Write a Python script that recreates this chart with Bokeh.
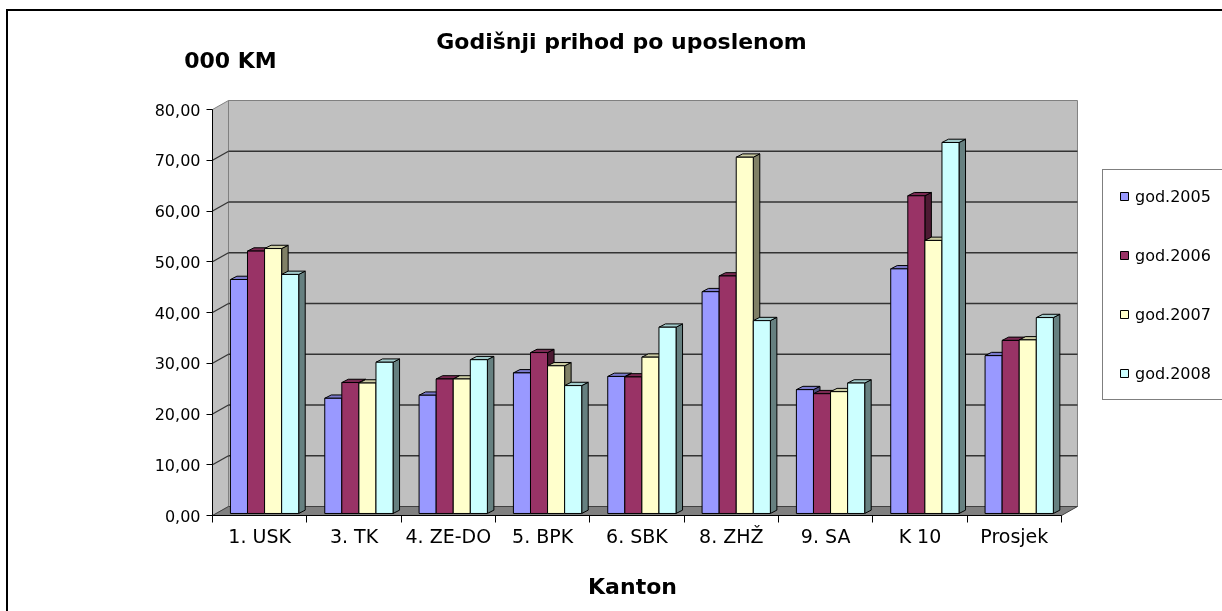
from bokeh.plotting import figure
from bokeh.models import (Range1d, FixedTicker, Legend, LegendItem, Label)
from bokeh.embed import file_html
from bokeh.resources import INLINE

# ---------------- data ----------------
categories = ["1. USK", "3. TK", "4. ZE-DO", "5. BPK", "6. SBK",
              "8. ZHŽ", "9. SA", "K 10", "Prosjek"]
series_names = ["god.2005", "god.2006", "god.2007", "god.2008"]
god_2005 = [46.1, 22.7, 23.3, 27.7, 27.0, 43.7, 24.4, 48.2, 31.1]
god_2006 = [51.7, 25.8, 26.5, 31.7, 26.9, 46.8, 23.6, 62.6, 34.1]
god_2007 = [52.2, 25.7, 26.5, 29.1, 30.8, 70.2, 24.0, 53.8, 34.2]
god_2008 = [47.1, 29.8, 30.3, 25.2, 36.7, 38.0, 25.7, 73.1, 38.6]
y_ticks = [0, 10, 20, 30, 40, 50, 60, 70, 80]
y_tick_labels = ["0,00", "10,00", "20,00", "30,00", "40,00",
                 "50,00", "60,00", "70,00", "80,00"]
title_text = "Godišnji prihod po uposlenom"
unit_text = "000 KM"
x_title = "Kanton"

# ---------------- styling ----------------
FONT = "DejaVu Sans"
front_colors = ["#9999FF", "#993366", "#FFFFCC", "#CCFFFF"]
top_colors = ["#7A7ACC", "#7A2952", "#CCCCA3", "#A3CCCC"]
side_colors = ["#4D4D80", "#4D1A33", "#808066", "#668080"]

PXX = 94.33   # pixels per category
PXY = 5.075   # pixels per value unit
N = len(categories)
YMAX = y_ticks[-1]
DXW = 16 / PXX      # depth of the walls
DYW = 9 / PXY
BAR_W = 0.181
BAR_OFF = 0.19
BASE = 0.4
DXB = 6.5 / PXX     # depth of a bar
DYB = 3.3 / PXY

W, H = 1300, 700
LEFT, BOTTOM = 142, 60
X0 = -62 / PXX
Y_TOP = 504 / PXY

p = figure(width=W, height=H,
           x_range=Range1d(X0, X0 + (W - LEFT) / PXX),
           y_range=Range1d(Y_TOP - (H - BOTTOM) / PXY, Y_TOP),
           output_backend="svg", toolbar_location=None,
           min_border_left=LEFT, min_border_right=0,
           min_border_top=0, min_border_bottom=BOTTOM)
p.styles = {"position": "fixed", "left": "6px", "top": "9px",
            "border-left": "2px solid black", "border-top": "2px solid black"}
p.outline_line_color = None
p.xgrid.visible = False
p.ygrid.visible = False
p.background_fill_color = "white"
p.border_fill_color = "white"

# walls and floor
p.quad(left=DXW, right=N + DXW, bottom=DYW, top=YMAX + DYW,
       fill_color="#C0C0C0", line_color="#808080", line_width=1)
p.patch([0, DXW, DXW, 0], [0, DYW, YMAX + DYW, YMAX],
        fill_color="#C0C0C0", line_color="#808080", line_width=1)
p.patch([0, N, N + DXW, DXW], [0, 0, DYW, DYW],
        fill_color="#808080", line_color="#404040", line_width=1)

grid_vals = y_ticks[1:-1]
p.segment(x0=[DXW] * len(grid_vals), y0=[t + DYW for t in grid_vals],
          x1=[N + DXW] * len(grid_vals), y1=[t + DYW for t in grid_vals],
          line_color="#333333", line_width=1.3)
p.segment(x0=[0] * len(grid_vals), y0=grid_vals,
          x1=[DXW] * len(grid_vals), y1=[t + DYW for t in grid_vals],
          line_color="#333333", line_width=1.3)

# bars
all_series = [god_2005, god_2006, god_2007, god_2008]
legend_items = []
for s, vals in enumerate(all_series):
    x0 = [i + BAR_OFF + s * BAR_W for i in range(N)]
    x1 = [x + BAR_W for x in x0]
    tops = [BASE + v for v in vals]
    side_xs = [[a, a + DXB, a + DXB, a] for a in x1]
    side_ys = [[BASE, BASE + DYB, t + DYB, t] for t in tops]
    top_xs = [[a, a + DXB, b + DXB, b] for a, b in zip(x0, x1)]
    top_ys = [[t, t + DYB, t + DYB, t] for t in tops]
    p.patches(side_xs, side_ys, fill_color=side_colors[s],
              line_color="black", line_width=1)
    p.patches(top_xs, top_ys, fill_color=top_colors[s],
              line_color="black", line_width=1)
    r = p.quad(left=x0, right=x1, bottom=BASE, top=tops,
               fill_color=front_colors[s], line_color="black", line_width=1)
    legend_items.append(LegendItem(label=series_names[s], renderers=[r]))

# front axis lines
p.segment(x0=[0, 0], y0=[0, 0], x1=[0, N], y1=[YMAX, 0],
          line_color="black", line_width=1)

# y axis (drawn at x = 0, the front edge of the chart)
yax = p.yaxis[0]
yax.fixed_location = 0
yax.ticker = FixedTicker(ticks=y_ticks)
yax.major_label_overrides = {t: l for t, l in zip(y_ticks, y_tick_labels)}
yax.axis_line_color = None
yax.major_tick_out = 6
yax.major_tick_in = 0
yax.minor_tick_out = 0
yax.minor_tick_in = 0
yax.major_label_standoff = 6
yax.major_label_text_font = FONT
yax.major_label_text_font_size = "16px"
yax.major_label_text_color = "black"

# x axis (drawn at y = 0)
xax = p.xaxis[0]
xax.fixed_location = 0
xax.ticker = FixedTicker(ticks=[i + 0.5 for i in range(N)],
                         minor_ticks=list(range(N + 1)))
xax.major_label_overrides = {i + 0.5: c for i, c in enumerate(categories)}
xax.axis_line_color = None
xax.major_tick_line_color = None
xax.minor_tick_out = 7
xax.minor_tick_in = 0
xax.minor_tick_line_color = "black"
xax.major_label_standoff = 2
xax.major_label_text_font = FONT
xax.major_label_text_font_size = "19px"
xax.major_label_text_color = "black"

# legend
legend = Legend(items=legend_items, location=(952, 251),
                glyph_width=10, glyph_height=10, label_height=20,
                label_width=110,
                spacing=39, padding=16, margin=0, label_standoff=6,
                border_line_color="black", border_line_width=1,
                background_fill_color="white",
                label_text_font=FONT, label_text_font_size="16px",
                label_text_color="black")
p.add_layout(legend)

# texts
p.add_layout(Label(x=(621 - 212) / PXX, y=(515 - 40.5) / PXY,
                   text=title_text, text_align="center",
                   text_baseline="alphabetic", text_font=FONT,
                   text_font_size="22px", text_font_style="bold",
                   text_color="black"))
p.add_layout(Label(x=(230 - 212) / PXX, y=(515 - 60) / PXY,
                   text=unit_text, text_align="center",
                   text_baseline="alphabetic", text_font=FONT,
                   text_font_size="22px", text_font_style="bold",
                   text_color="black"))
p.add_layout(Label(x=(632 - 212) / PXX, y=(515 - 586) / PXY,
                   text=x_title, text_align="center",
                   text_baseline="alphabetic", text_font=FONT,
                   text_font_size="22px", text_font_style="bold",
                   text_color="black"))

open("out.html", "w").write(file_html(p, INLINE))
